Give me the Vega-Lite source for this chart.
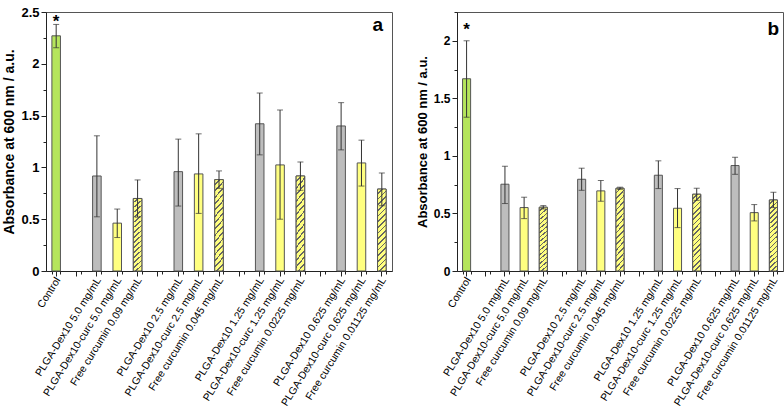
{
  "$schema": "https://vega.github.io/schema/vega-lite/v6.json",
  "padding": {"left": 2, "top": 5, "right": 4, "bottom": 0},
  "spacing": 22,
  "config": {
    "view": {"stroke": "#555", "strokeWidth": 1},
    "font": "Liberation Sans",
    "axis": {"domainColor": "#222", "tickColor": "#222", "labelColor": "#000", "titleColor": "#000", "grid": false}
  },
  "datasets": {
    "a": [
      {"label": "Control", "kind": "control", "mean": 2.27, "lo": 2.155, "hi": 2.38, "star": 2.43},
      {"label": "PLGA-Dex10 5.0 mg/mL", "kind": "dex", "mean": 0.917, "lo": 0.523, "hi": 1.305},
      {"label": "PLGA-Dex10-curc 5.0 mg/mL", "kind": "curc", "mean": 0.462, "lo": 0.323, "hi": 0.598},
      {"label": "Free curcumin 0.09 mg/mL", "kind": "free", "mean": 0.70, "lo": 0.52, "hi": 0.879},
      {"label": "PLGA-Dex10 2.5 mg/mL", "kind": "dex", "mean": 0.959, "lo": 0.627, "hi": 1.273},
      {"label": "PLGA-Dex10-curc 2.5 mg/mL", "kind": "curc", "mean": 0.937, "lo": 0.556, "hi": 1.324},
      {"label": "Free curcumin 0.045 mg/mL", "kind": "free", "mean": 0.882, "lo": 0.798, "hi": 0.966},
      {"label": "PLGA-Dex10 1.25 mg/mL", "kind": "dex", "mean": 1.421, "lo": 1.121, "hi": 1.718},
      {"label": "PLGA-Dex10-curc 1.25 mg/mL", "kind": "curc", "mean": 1.024, "lo": 0.5, "hi": 1.554},
      {"label": "Free curcumin 0.0225 mg/mL", "kind": "free", "mean": 0.917, "lo": 0.78, "hi": 1.053},
      {"label": "PLGA-Dex10 0.625 mg/mL", "kind": "dex", "mean": 1.40, "lo": 1.169, "hi": 1.625},
      {"label": "PLGA-Dex10-curc 0.625 mg/mL", "kind": "curc", "mean": 1.043, "lo": 0.82, "hi": 1.263},
      {"label": "Free curcumin 0.01125 mg/mL", "kind": "free", "mean": 0.791, "lo": 0.63, "hi": 0.946}
    ],
    "b": [
      {"label": "Control", "kind": "control", "mean": 1.67, "lo": 1.336, "hi": 2.0, "star": 2.116},
      {"label": "PLGA-Dex10 5.0 mg/mL", "kind": "dex", "mean": 0.754, "lo": 0.586, "hi": 0.91},
      {"label": "PLGA-Dex10-curc 5.0 mg/mL", "kind": "curc", "mean": 0.551, "lo": 0.455, "hi": 0.641},
      {"label": "Free curcumin 0.09 mg/mL", "kind": "free", "mean": 0.554, "lo": 0.539, "hi": 0.568},
      {"label": "PLGA-Dex10 2.5 mg/mL", "kind": "dex", "mean": 0.797, "lo": 0.701, "hi": 0.893},
      {"label": "PLGA-Dex10-curc 2.5 mg/mL", "kind": "curc", "mean": 0.696, "lo": 0.606, "hi": 0.786},
      {"label": "Free curcumin 0.045 mg/mL", "kind": "free", "mean": 0.719, "lo": 0.71, "hi": 0.728},
      {"label": "PLGA-Dex10 1.25 mg/mL", "kind": "dex", "mean": 0.832, "lo": 0.716, "hi": 0.957},
      {"label": "PLGA-Dex10-curc 1.25 mg/mL", "kind": "curc", "mean": 0.545, "lo": 0.377, "hi": 0.716},
      {"label": "Free curcumin 0.0225 mg/mL", "kind": "free", "mean": 0.667, "lo": 0.614, "hi": 0.719},
      {"label": "PLGA-Dex10 0.625 mg/mL", "kind": "dex", "mean": 0.916, "lo": 0.84, "hi": 0.988},
      {"label": "PLGA-Dex10-curc 0.625 mg/mL", "kind": "curc", "mean": 0.507, "lo": 0.435, "hi": 0.577},
      {"label": "Free curcumin 0.01125 mg/mL", "kind": "free", "mean": 0.617, "lo": 0.551, "hi": 0.684}
    ]
  },
  "hconcat": [
    {
      "width": 346,
      "height": 259,
      "data": {"name": "a"},
      "resolve": {"axis": {"x": "independent", "y": "independent"}},
      "layer": [
        {
          "mark": {"type": "bar", "stroke": "#555", "strokeWidth": 1},
          "encoding": {
            "x": {
              "field": "label", "type": "nominal", "sort": null,
              "scale": {"domain": ["Control","_1","PLGA-Dex10 5.0 mg/mL","PLGA-Dex10-curc 5.0 mg/mL","Free curcumin 0.09 mg/mL","_2","PLGA-Dex10 2.5 mg/mL","PLGA-Dex10-curc 2.5 mg/mL","Free curcumin 0.045 mg/mL","_3","PLGA-Dex10 1.25 mg/mL","PLGA-Dex10-curc 1.25 mg/mL","Free curcumin 0.0225 mg/mL","_4","PLGA-Dex10 0.625 mg/mL","PLGA-Dex10-curc 0.625 mg/mL","Free curcumin 0.01125 mg/mL"], "paddingInner": 0.58, "paddingOuter": 0.29},
              "axis": {"title": null, "orient": "bottom", "labelAngle": -58, "labelAlign": "right", "labelBaseline": "middle", "labelFontSize": 10.5, "labelPadding": 2, "labelOffset": 2, "tickSize": 5, "labelExpr": "slice(datum.value, 0, 1) == '_' ? '' : datum.value", "labelOverlap": false}
            },
            "y": {
              "field": "mean", "type": "quantitative",
              "scale": {"domain": [0, 2.5], "nice": false, "zero": true},
              "axis": {"title": "Absorbance at 600 nm / a.u.", "orient": "left", "values": [0, 0.5, 1, 1.5, 2, 2.5], "format": "~g", "labelFontSize": 13, "labelFontWeight": "bold", "titleFontSize": 14, "titleFontWeight": "bold", "tickSize": 5, "labelPadding": 2, "titlePadding": 4}
            },
            "color": {
              "field": "kind", "type": "nominal", "legend": null,
              "scale": {"domain": ["control", "dex", "curc", "free"], "range": ["#b5e55c", "#bdbdbd", "#ffff80", "#ffff80"]}
            }
          }
        },
        {
          "transform": [{"filter": "datum.kind == 'free'"}],
          "mark": {
            "type": "bar", "stroke": "#555", "strokeWidth": 1,
            "fill": {"gradient": "linear", "x1": 0, "y1": 0, "x2": 0.1162, "y2": 1.094, "stops": [
              {"offset": 0, "color": "#ffff80"}, {"offset": 0.04375, "color": "#ffff80"}, {"offset": 0.04375, "color": "#666"}, {"offset": 0.0625, "color": "#666"},
              {"offset": 0.0625, "color": "#ffff80"}, {"offset": 0.10625, "color": "#ffff80"}, {"offset": 0.10625, "color": "#666"}, {"offset": 0.125, "color": "#666"},
              {"offset": 0.125, "color": "#ffff80"}, {"offset": 0.16875, "color": "#ffff80"}, {"offset": 0.16875, "color": "#666"}, {"offset": 0.1875, "color": "#666"},
              {"offset": 0.1875, "color": "#ffff80"}, {"offset": 0.23125, "color": "#ffff80"}, {"offset": 0.23125, "color": "#666"}, {"offset": 0.25, "color": "#666"},
              {"offset": 0.25, "color": "#ffff80"}, {"offset": 0.29375, "color": "#ffff80"}, {"offset": 0.29375, "color": "#666"}, {"offset": 0.3125, "color": "#666"},
              {"offset": 0.3125, "color": "#ffff80"}, {"offset": 0.35625, "color": "#ffff80"}, {"offset": 0.35625, "color": "#666"}, {"offset": 0.375, "color": "#666"},
              {"offset": 0.375, "color": "#ffff80"}, {"offset": 0.41875, "color": "#ffff80"}, {"offset": 0.41875, "color": "#666"}, {"offset": 0.4375, "color": "#666"},
              {"offset": 0.4375, "color": "#ffff80"}, {"offset": 0.48125, "color": "#ffff80"}, {"offset": 0.48125, "color": "#666"}, {"offset": 0.5, "color": "#666"},
              {"offset": 0.5, "color": "#ffff80"}, {"offset": 0.54375, "color": "#ffff80"}, {"offset": 0.54375, "color": "#666"}, {"offset": 0.5625, "color": "#666"},
              {"offset": 0.5625, "color": "#ffff80"}, {"offset": 0.60625, "color": "#ffff80"}, {"offset": 0.60625, "color": "#666"}, {"offset": 0.625, "color": "#666"},
              {"offset": 0.625, "color": "#ffff80"}, {"offset": 0.66875, "color": "#ffff80"}, {"offset": 0.66875, "color": "#666"}, {"offset": 0.6875, "color": "#666"},
              {"offset": 0.6875, "color": "#ffff80"}, {"offset": 0.73125, "color": "#ffff80"}, {"offset": 0.73125, "color": "#666"}, {"offset": 0.75, "color": "#666"},
              {"offset": 0.75, "color": "#ffff80"}, {"offset": 0.79375, "color": "#ffff80"}, {"offset": 0.79375, "color": "#666"}, {"offset": 0.8125, "color": "#666"},
              {"offset": 0.8125, "color": "#ffff80"}, {"offset": 0.85625, "color": "#ffff80"}, {"offset": 0.85625, "color": "#666"}, {"offset": 0.875, "color": "#666"},
              {"offset": 0.875, "color": "#ffff80"}, {"offset": 0.91875, "color": "#ffff80"}, {"offset": 0.91875, "color": "#666"}, {"offset": 0.9375, "color": "#666"},
              {"offset": 0.9375, "color": "#ffff80"}, {"offset": 0.98125, "color": "#ffff80"}, {"offset": 0.98125, "color": "#666"}, {"offset": 1, "color": "#666"}
            ]}
          },
          "encoding": {
            "x": {"field": "label", "type": "nominal", "sort": null,
              "axis": {"title": null, "orient": "bottom", "tickBand": "extent", "labels": false, "domain": false, "tickSize": 3}},
            "y": {"field": "mean", "type": "quantitative",
              "axis": {"title": null, "orient": "left", "values": [0.25, 0.75, 1.25, 1.75, 2.25], "labels": false, "domain": false, "tickSize": 3}}
          }
        },
        {
          "mark": {"type": "errorbar", "ticks": {"size": 6, "color": "#333"}, "rule": {"color": "#333", "strokeWidth": 1}},
          "encoding": {
            "x": {"field": "label", "type": "nominal", "sort": null, "axis": null},
            "y": {"field": "lo", "type": "quantitative", "axis": null},
            "y2": {"field": "hi"}
          }
        },
        {
          "transform": [{"filter": "datum.kind == 'control'"}],
          "mark": {"type": "text", "text": "*", "fontSize": 17, "fontWeight": "bold", "baseline": "middle", "dy": 3},
          "encoding": {
            "x": {"field": "label", "type": "nominal", "sort": null, "axis": null},
            "y": {"field": "star", "type": "quantitative", "axis": null}
          }
        },
        {
          "data": {"values": [{"letter": "a"}]},
          "mark": {"type": "text", "fontSize": 19, "fontWeight": "bold", "baseline": "middle", "align": "center", "dx": -4},
          "encoding": {
            "text": {"field": "letter"},
            "x": {"datum": "Free curcumin 0.01125 mg/mL", "type": "nominal", "axis": null},
            "y": {"datum": 2.37, "type": "quantitative", "axis": null}
          }
        }
      ]
    },
    {
      "width": 326,
      "height": 259,
      "data": {"name": "b"},
      "resolve": {"axis": {"x": "independent", "y": "independent"}},
      "layer": [
        {
          "mark": {"type": "bar", "stroke": "#555", "strokeWidth": 1},
          "encoding": {
            "x": {
              "field": "label", "type": "nominal", "sort": null,
              "scale": {"domain": ["Control","_1","PLGA-Dex10 5.0 mg/mL","PLGA-Dex10-curc 5.0 mg/mL","Free curcumin 0.09 mg/mL","_2","PLGA-Dex10 2.5 mg/mL","PLGA-Dex10-curc 2.5 mg/mL","Free curcumin 0.045 mg/mL","_3","PLGA-Dex10 1.25 mg/mL","PLGA-Dex10-curc 1.25 mg/mL","Free curcumin 0.0225 mg/mL","_4","PLGA-Dex10 0.625 mg/mL","PLGA-Dex10-curc 0.625 mg/mL","Free curcumin 0.01125 mg/mL"], "paddingInner": 0.58, "paddingOuter": 0.29},
              "axis": {"title": null, "orient": "bottom", "labelAngle": -58, "labelAlign": "right", "labelBaseline": "middle", "labelFontSize": 10.5, "labelPadding": 2, "labelOffset": 2, "tickSize": 5, "labelExpr": "slice(datum.value, 0, 1) == '_' ? '' : datum.value", "labelOverlap": false}
            },
            "y": {
              "field": "mean", "type": "quantitative",
              "scale": {"domain": [0, 2.25], "nice": false, "zero": true},
              "axis": {"title": "Absorbance at 600 nm / a.u.", "orient": "left", "values": [0, 0.5, 1, 1.5, 2], "format": "~g", "labelFontSize": 12, "labelFontWeight": "bold", "titleFontSize": 13, "titleFontWeight": "bold", "tickSize": 5, "labelPadding": 2, "titlePadding": 4}
            },
            "color": {
              "field": "kind", "type": "nominal", "legend": null,
              "scale": {"domain": ["control", "dex", "curc", "free"], "range": ["#b5e55c", "#bdbdbd", "#ffff80", "#ffff80"]}
            }
          }
        },
        {
          "transform": [{"filter": "datum.kind == 'free'"}],
          "mark": {
            "type": "bar", "stroke": "#555", "strokeWidth": 1,
            "fill": {"gradient": "linear", "x1": 0, "y1": 0, "x2": 0.1162, "y2": 1.094, "stops": [
              {"offset": 0, "color": "#ffff80"}, {"offset": 0.04375, "color": "#ffff80"}, {"offset": 0.04375, "color": "#666"}, {"offset": 0.0625, "color": "#666"},
              {"offset": 0.0625, "color": "#ffff80"}, {"offset": 0.10625, "color": "#ffff80"}, {"offset": 0.10625, "color": "#666"}, {"offset": 0.125, "color": "#666"},
              {"offset": 0.125, "color": "#ffff80"}, {"offset": 0.16875, "color": "#ffff80"}, {"offset": 0.16875, "color": "#666"}, {"offset": 0.1875, "color": "#666"},
              {"offset": 0.1875, "color": "#ffff80"}, {"offset": 0.23125, "color": "#ffff80"}, {"offset": 0.23125, "color": "#666"}, {"offset": 0.25, "color": "#666"},
              {"offset": 0.25, "color": "#ffff80"}, {"offset": 0.29375, "color": "#ffff80"}, {"offset": 0.29375, "color": "#666"}, {"offset": 0.3125, "color": "#666"},
              {"offset": 0.3125, "color": "#ffff80"}, {"offset": 0.35625, "color": "#ffff80"}, {"offset": 0.35625, "color": "#666"}, {"offset": 0.375, "color": "#666"},
              {"offset": 0.375, "color": "#ffff80"}, {"offset": 0.41875, "color": "#ffff80"}, {"offset": 0.41875, "color": "#666"}, {"offset": 0.4375, "color": "#666"},
              {"offset": 0.4375, "color": "#ffff80"}, {"offset": 0.48125, "color": "#ffff80"}, {"offset": 0.48125, "color": "#666"}, {"offset": 0.5, "color": "#666"},
              {"offset": 0.5, "color": "#ffff80"}, {"offset": 0.54375, "color": "#ffff80"}, {"offset": 0.54375, "color": "#666"}, {"offset": 0.5625, "color": "#666"},
              {"offset": 0.5625, "color": "#ffff80"}, {"offset": 0.60625, "color": "#ffff80"}, {"offset": 0.60625, "color": "#666"}, {"offset": 0.625, "color": "#666"},
              {"offset": 0.625, "color": "#ffff80"}, {"offset": 0.66875, "color": "#ffff80"}, {"offset": 0.66875, "color": "#666"}, {"offset": 0.6875, "color": "#666"},
              {"offset": 0.6875, "color": "#ffff80"}, {"offset": 0.73125, "color": "#ffff80"}, {"offset": 0.73125, "color": "#666"}, {"offset": 0.75, "color": "#666"},
              {"offset": 0.75, "color": "#ffff80"}, {"offset": 0.79375, "color": "#ffff80"}, {"offset": 0.79375, "color": "#666"}, {"offset": 0.8125, "color": "#666"},
              {"offset": 0.8125, "color": "#ffff80"}, {"offset": 0.85625, "color": "#ffff80"}, {"offset": 0.85625, "color": "#666"}, {"offset": 0.875, "color": "#666"},
              {"offset": 0.875, "color": "#ffff80"}, {"offset": 0.91875, "color": "#ffff80"}, {"offset": 0.91875, "color": "#666"}, {"offset": 0.9375, "color": "#666"},
              {"offset": 0.9375, "color": "#ffff80"}, {"offset": 0.98125, "color": "#ffff80"}, {"offset": 0.98125, "color": "#666"}, {"offset": 1, "color": "#666"}
            ]}
          },
          "encoding": {
            "x": {"field": "label", "type": "nominal", "sort": null,
              "axis": {"title": null, "orient": "bottom", "tickBand": "extent", "labels": false, "domain": false, "tickSize": 3}},
            "y": {"field": "mean", "type": "quantitative",
              "axis": {"title": null, "orient": "left", "values": [0.25, 0.75, 1.25, 1.75, 2.25], "labels": false, "domain": false, "tickSize": 3}}
          }
        },
        {
          "mark": {"type": "errorbar", "ticks": {"size": 6, "color": "#333"}, "rule": {"color": "#333", "strokeWidth": 1}},
          "encoding": {
            "x": {"field": "label", "type": "nominal", "sort": null, "axis": null},
            "y": {"field": "lo", "type": "quantitative", "axis": null},
            "y2": {"field": "hi"}
          }
        },
        {
          "transform": [{"filter": "datum.kind == 'control'"}],
          "mark": {"type": "text", "text": "*", "fontSize": 17, "fontWeight": "bold", "baseline": "middle", "dy": 3},
          "encoding": {
            "x": {"field": "label", "type": "nominal", "sort": null, "axis": null},
            "y": {"field": "star", "type": "quantitative", "axis": null}
          }
        },
        {
          "data": {"values": [{"letter": "b"}]},
          "mark": {"type": "text", "fontSize": 19, "fontWeight": "bold", "baseline": "middle", "align": "center"},
          "encoding": {
            "text": {"field": "letter"},
            "x": {"datum": "Free curcumin 0.01125 mg/mL", "type": "nominal", "axis": null},
            "y": {"datum": 2.1, "type": "quantitative", "axis": null}
          }
        }
      ]
    }
  ]
}
